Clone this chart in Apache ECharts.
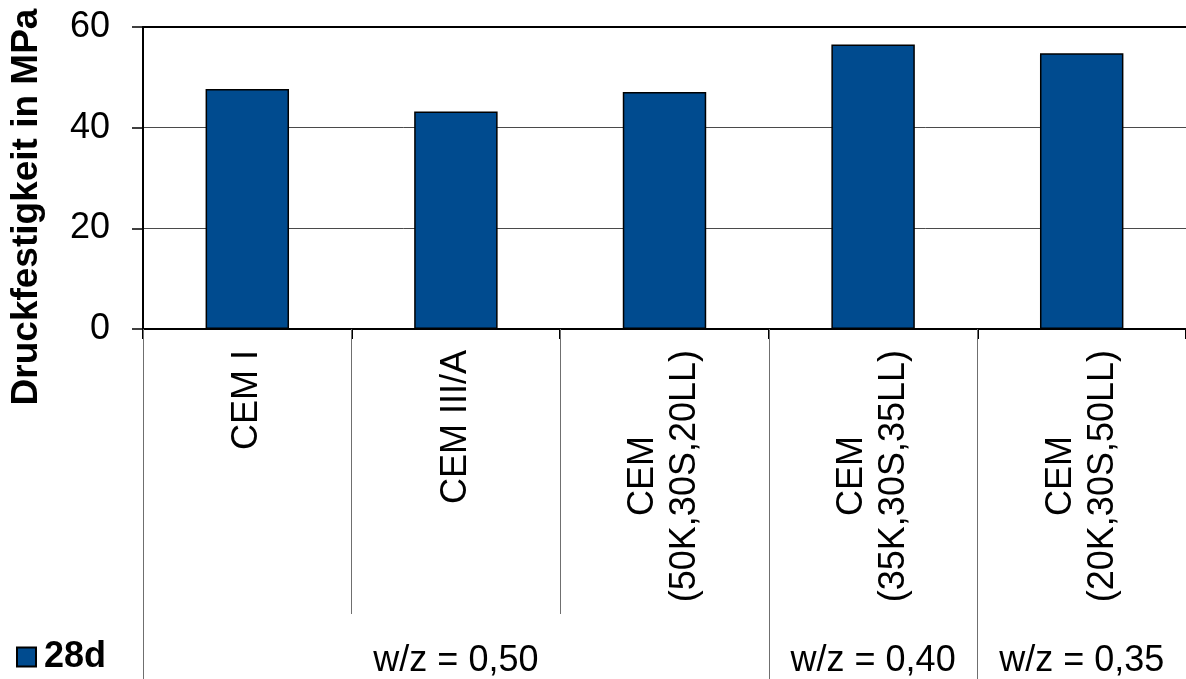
<!DOCTYPE html>
<html>
<head>
<meta charset="utf-8">
<title>Druckfestigkeit 28d</title>
<script src="https://cdn.jsdelivr.net/npm/echarts@6/dist/echarts.min.js"></script>
<style>
  html, body { margin: 0; padding: 0; background: #ffffff; }
  #chart { width: 1186px; height: 679px; }
</style>
</head>
<body>
<div id="chart"></div>
<script>
// Cement types (inner axis level) and w/z groups (outer axis level)
const categories = [
  'CEM I',
  'CEM III/A',
  'CEM\n(50K,30S,20LL)',
  'CEM\n(35K,30S,35LL)',
  'CEM\n(20K,30S,50LL)'
];
// group label sits on the middle category of its span; '' for the rest
const groupLabels = ['', 'w/z = 0,50', '', 'w/z = 0,40', 'w/z = 0,35'];
// index of the first category of each group
const groupStarts = [0, 3, 4];

const seriesName = '28d';
const strength28d = [47.7, 43.2, 47.1, 56.5, 54.8];

const yTicks = { min: 0, max: 60, interval: 20 };

const FONT = "'Liberation Sans', Arial, Helvetica, sans-serif";
const BAR_COLOR = '#004b8f';
const GRID_GREY = '#4a4a4a';
const SEP_GREY = '#6f6f6f';

const chart = echarts.init(document.getElementById('chart'), null, { renderer: 'canvas' });

const option = {
  backgroundColor: '#ffffff',
  animation: false,
  grid: { left: 143, right: 0, top: 27, height: 303, containLabel: false },
  legend: {
    left: 16,
    top: 639,
    padding: 0,
    itemWidth: 19,
    itemHeight: 19,
    icon: 'rect',
    textStyle: { fontFamily: FONT, fontSize: 36, fontWeight: 'bold', color: '#000', padding: [0, 0, 0, 3] },
    data: [seriesName]
  },
  graphic: [{
    type: 'text',
    x: 27,
    y: 207,
    rotation: Math.PI / 2,
    style: {
      text: 'Druckfestigkeit in MPa',
      font: "bold 37px 'Liberation Sans', Arial, sans-serif",
      fill: '#000',
      textAlign: 'center',
      textVerticalAlign: 'middle'
    }
  }],
  xAxis: [
    {
      // inner level: cement type labels + short black ticks
      type: 'category',
      position: 'bottom',
      data: categories,
      axisLine: { show: true, lineStyle: { color: '#000', width: 2 } },
      axisTick: { show: true, length: 10, lineStyle: { color: '#000', width: 2 } },
      axisLabel: {
        interval: 0,
        rotate: 90,
        margin: 21,
        color: '#000',
        fontFamily: FONT,
        fontSize: 36,
        formatter: function (v) {
          if (v.indexOf('\n') < 0) return v;
          return v.split('\n').map(function (s) { return '{c|' + s + '}'; }).join('\n');
        },
        rich: {
          c: { align: 'center', fontFamily: FONT, fontSize: 36, lineHeight: 42, color: '#000' }
        }
      },
      splitLine: { show: false }
    },
    {
      // grey separators between all categories
      type: 'category',
      position: 'bottom',
      data: categories,
      axisLine: { show: false },
      axisTick: { show: true, length: 285, lineStyle: { color: SEP_GREY, width: 1 } },
      axisLabel: { show: false },
      splitLine: { show: false }
    },
    {
      // outer level: w/z groups
      type: 'category',
      position: 'bottom',
      data: groupLabels,
      axisLine: { show: false },
      axisTick: {
        show: true,
        length: 360,
        interval: function (index) { return groupStarts.indexOf(index) >= 0; },
        lineStyle: { color: SEP_GREY, width: 1 }
      },
      axisLabel: {
        interval: 0,
        margin: 314,
        color: '#000',
        fontFamily: FONT,
        fontSize: 36
      },
      splitLine: { show: false }
    },
    {
      // frame line along the top of the plot
      type: 'category',
      position: 'top',
      data: categories,
      axisLine: { show: true, onZero: false, lineStyle: { color: '#000', width: 2 } },
      axisTick: { show: false },
      axisLabel: { show: false },
      splitLine: { show: false }
    }
  ],
  yAxis: {
    type: 'value',
    min: yTicks.min,
    max: yTicks.max,
    interval: yTicks.interval,
    axisLine: { show: true, lineStyle: { color: '#000', width: 2 } },
    axisTick: { show: true, length: 11, lineStyle: { color: '#000', width: 1.5 } },
    axisLabel: {
      margin: 33,
      color: '#000',
      fontFamily: FONT,
      fontSize: 36
    },
    splitLine: { show: true, lineStyle: { color: GRID_GREY, width: 1 } }
  },
  series: [{
    name: seriesName,
    type: 'bar',
    xAxisIndex: 0,
    yAxisIndex: 0,
    barWidth: '40%',
    data: strength28d,
    itemStyle: { color: BAR_COLOR, borderColor: '#000', borderWidth: 1.5 }
  }]
};

chart.setOption(option);
</script>
</body>
</html>
